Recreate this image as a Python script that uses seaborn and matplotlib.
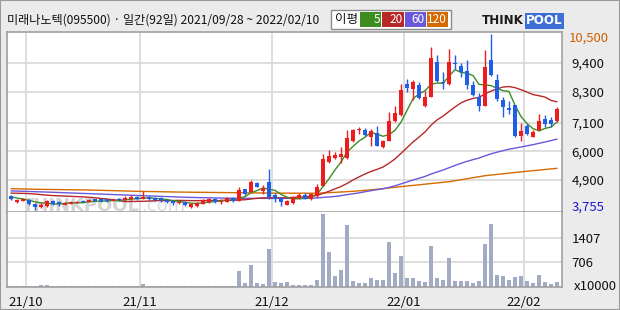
import numpy as np
import pandas as pd
import matplotlib
matplotlib.use("Agg")
import matplotlib.pyplot as plt
import seaborn as sns
from matplotlib.patches import Rectangle

# ---------------- data ----------------
title = "미래나노텍(095500) · 일간(92일) 2021/09/28 ~ 2022/02/10"
holidays = ["2021-10-04", "2021-10-11", "2021-12-31", "2022-01-31", "2022-02-01", "2022-02-02"]
dates = [d for d in pd.bdate_range("2021-09-28", "2022-02-10")
         if d.strftime("%Y-%m-%d") not in holidays]

opens = [4280, 4060, 4100, 4125, 3960, 3870, 3895, 4085, 4050, 3945,
         3970, 4010, 4085, 4060, 4150, 4165, 4150, 4100, 4165, 4140,
         4150, 4255, 4165, 4240, 4205, 4190, 4125, 4075, 3995, 4035,
         3870, 3910, 3985, 4050, 4175, 4050, 4060, 4215, 4100, 4535,
         4445, 4795, 4470, 4805, 4300, 4215, 3945, 4025, 4215, 4330,
         4155, 4295, 4680, 5590, 5745, 5795, 5745, 6410, 6820, 6820,
         6565, 6695, 6165, 6410, 7180, 7385, 8590, 8385, 8555, 7745,
         8105, 9440, 8670, 8590, 9400, 9295, 9090, 8555, 8105, 7745,
         9515, 8745, 7975, 7670, 7785, 6590, 6975, 6565, 6820, 7230,
         7205, 7180]
highs = [4330, 4150, 4190, 4150, 4000, 4000, 4125, 4125, 4085, 4035,
         4075, 4085, 4115, 4150, 4175, 4190, 4175, 4175, 4190, 4280,
         4320, 4290, 4470, 4280, 4230, 4230, 4165, 4100, 4075, 4075,
         4000, 4060, 4150, 4205, 4205, 4150, 4230, 4255, 4615, 4560,
         4895, 4830, 4705, 5330, 4390, 4255, 4125, 4280, 4385, 4385,
         4385, 4745, 5895, 6050, 5985, 6180, 6820, 6860, 6950, 6900,
         6860, 6975, 6435, 7525, 7745, 8580, 8795, 8745, 8680, 8320,
         10030, 9720, 9055, 9940, 9710, 9415, 9515, 8705, 8230, 9900,
         10500, 8965, 8105, 7925, 7785, 7105, 7040, 6820, 7435, 7400,
         7335, 7720]
lows = [4125, 4025, 4075, 3935, 3755, 3805, 3870, 3935, 3910, 3920,
        3960, 3995, 4025, 4050, 4075, 4060, 4060, 4085, 4085, 4100,
        4125, 4125, 4150, 4125, 4085, 4060, 4000, 3935, 3970, 3880,
        3830, 3870, 3960, 4025, 4000, 3960, 4035, 4060, 4075, 4330,
        4420, 4615, 4345, 4150, 4060, 3910, 3935, 3985, 4165, 4155,
        4125, 4255, 4655, 5550, 5690, 5540, 5720, 6370, 6665, 6590,
        6220, 6205, 6140, 6385, 7130, 7360, 8295, 7975, 8015, 7705,
        8080, 8655, 8410, 8555, 9155, 8875, 8410, 8130, 7565, 7730,
        8900, 7950, 7335, 7435, 6540, 6410, 6615, 6540, 6785, 6925,
        6950, 7140]
closes = [4150, 4125, 4165, 3970, 3870, 3945, 4085, 3985, 3970, 4000,
          4050, 4060, 4050, 4125, 4085, 4085, 4085, 4150, 4115, 4215,
          4230, 4165, 4255, 4165, 4125, 4115, 4050, 4025, 4050, 3920,
          3960, 4025, 4125, 4175, 4035, 4100, 4205, 4100, 4510, 4370,
          4820, 4640, 4600, 4255, 4160, 4065, 4090, 4255, 4320, 4180,
          4360, 4640, 5705, 5835, 5870, 5910, 6515, 6820, 6860, 6630,
          6785, 6220, 6400, 7170, 7475, 8360, 8450, 8680, 8065, 8105,
          9590, 8705, 8615, 9440, 9360, 9055, 8555, 8170, 7745, 9245,
          8940, 8015, 7720, 7590, 6590, 6785, 6655, 6745, 7170, 7050,
          7050, 7630]
volumes = [45, 40, 40, 45, 50, 65, 65, 40, 40, 35,
           35, 35, 35, 35, 35, 35, 35, 35, 35, 35,
           35, 35, 95, 40, 35, 35, 35, 35, 35, 35,
           35, 35, 35, 35, 35, 35, 35, 35, 470, 130,
           630, 130, 95, 1085, 160, 135, 150, 66, 66, 66,
           66, 210, 2075, 1000, 320, 490, 1765, 180, 130, 130,
           255, 210, 210, 1285, 415, 885, 265, 265, 180, 150,
           1170, 255, 210, 830, 180, 180, 190, 130, 190, 1225,
           1790, 350, 320, 210, 295, 320, 190, 130, 350, 160,
           95, 160]

ma5_head = [4250, 4200, 4160, 4110]
ma20_head = [4390, 4385, 4380, 4370, 4355, 4330, 4310, 4295, 4285, 4275,
             4265, 4255, 4245, 4230, 4210, 4185, 4160, 4130, 4100]
ma60_knot_idx = [0, 6, 13, 21, 29, 36, 44, 50, 54, 58]
ma60_knot_val = [4475, 4430, 4370, 4300, 4230, 4195, 4185, 4190, 4260, 4400]
ma120_knot_idx = [0, 5, 13, 21, 28, 36, 44, 51, 54, 57, 60, 65, 68, 73, 79, 84, 91]
ma120_knot_val = [4560, 4535, 4510, 4460, 4430, 4410, 4390, 4385, 4420, 4460,
                  4515, 4640, 4710, 4830, 5060, 5185, 5345]

price_ticks = [4900, 6000, 7100, 8300, 9400]
volume_ticks = [706, 1407]
ma_labels = ["5", "20", "60", "120"]

# ---------------- style ----------------
sns.set_theme(style="white")
FONT = ["Noto Sans CJK KR", "DejaVu Sans"]
plt.rcParams["font.family"] = FONT

RED = "#ee1c1c"
BLUE = "#1f5ee6"
C_MA5 = "#3c8c20"
C_MA20 = "#b82828"
C_MA60 = "#6a58dc"
C_MA120 = "#d46a00"
GRID = "#d8d8d8"
FRAME = "#a0a0a0"
BG = "#ebebeb"
VOLC = "#a3abc4"

W, H = 620, 310
fig = plt.figure(figsize=(W / 100, H / 100), dpi=100, facecolor=BG)
renderer = fig.canvas.get_renderer()


def rect(x0, y0, x1, y1):
    return [x0 / W, 1 - y1 / H, (x1 - x0) / W, (y1 - y0) / H]


ax = fig.add_axes(rect(7, 32, 562, 212))
axv = fig.add_axes(rect(7, 212, 562, 287.3), sharex=ax)

n = len(closes)
idx = np.arange(n)
o = np.array(opens, float)
c = np.array(closes, float)
hi = np.array(highs, float)
lo = np.array(lows, float)
up = c >= o
cols = np.where(up, RED, BLUE)

# month boundaries
month_first = [i for i in range(n) if i == 0 or dates[i].month != dates[i - 1].month][1:]
month_pos = [i - 0.5 for i in month_first]
month_text = [dates[i].strftime("%y/%m") for i in month_first]

for a in (ax, axv):
    a.set_facecolor("white")
    for p in month_pos:
        a.axvline(p, color=GRID, lw=1.2, zorder=0.5)
    for s in a.spines.values():
        s.set_color(FRAME)
        s.set_linewidth(1.2)
axv.spines["top"].set_visible(False)

for t in price_ticks:
    ax.axhline(t, color=GRID, lw=1.2, zorder=0.5)
for t in volume_ticks:
    axv.axhline(t, color=GRID, lw=1.2, zorder=0.5)

# watermark
wm = ax.text(22 / W, 1 - 211 / H, "THINKPOOL", transform=fig.transFigure,
             fontsize=13, fontweight="bold", color="#d4d4d4", va="baseline",
             family="DejaVu Sans", zorder=0.6, clip_on=True)
wm_ext = wm.get_window_extent(renderer=renderer)
ax.text((wm_ext.x1 + 1) / W, 1 - 211 / H, ".com", transform=fig.transFigure,
        fontsize=13, color="#dcdcdc", va="baseline", family="DejaVu Sans",
        zorder=0.6, clip_on=True)

# moving averages
s = pd.Series(c)
ma5 = s.rolling(5).mean()
ma20 = s.rolling(20).mean()
ma60 = s.rolling(60).mean()

ma5_x = list(range(len(ma5_head))) + list(range(len(ma5_head), n))
ma5_y = list(ma5_head) + list(ma5[len(ma5_head):])
ma20_x = list(range(len(ma20_head))) + list(range(len(ma20_head), n))
ma20_y = list(ma20_head) + list(ma20[len(ma20_head):])
ma60_x = list(ma60_knot_idx) + list(range(59, n))
ma60_y = list(ma60_knot_val) + list(ma60[59:])

for xs, ys, col in [(ma120_knot_idx, ma120_knot_val, C_MA120),
                    (ma60_x, ma60_y, C_MA60),
                    (ma20_x, ma20_y, C_MA20),
                    (ma5_x, ma5_y, C_MA5)]:
    sns.lineplot(x=xs, y=ys, ax=ax, color=col, lw=1.0, sort=False,
                 estimator=None, zorder=3)

# candles
ax.vlines(idx, lo, hi, colors=cols, lw=1.0, zorder=4)
body_lo = np.minimum(o, c)
body_h = np.maximum(np.abs(c - o), 35)
ax.bar(idx, body_h, bottom=body_lo, width=0.8, color=cols, linewidth=0, zorder=5)

# volume
axv.bar(idx, volumes, width=0.78, color=VOLC, linewidth=0, zorder=2)

# axes ranges
ax.set_xlim(-0.667, n - 0.17)
ax.set_ylim(3663, 10593)
axv.set_ylim(0, 2130)

# ticks
ax.yaxis.tick_right()
ax.set_yticks(price_ticks)
ax.set_yticklabels([f"{v:,}" for v in price_ticks])
ax.tick_params(axis="y", length=0, pad=7, labelsize=9.5, colors="#111111")
ax.tick_params(axis="x", length=0, labelbottom=False)
ax.set_ylabel("")
ax.set_xlabel("")

axv.yaxis.tick_right()
axv.set_yticks(volume_ticks)
axv.set_yticklabels([str(v) for v in volume_ticks])
axv.tick_params(axis="y", length=0, pad=7, labelsize=9.5, colors="#111111")
axv.set_xticks(month_pos)
axv.set_xticklabels(month_text)
axv.tick_params(axis="x", length=0, pad=6, labelsize=9.5, colors="#111111")
axv.set_xlabel("")
axv.set_ylabel("")

# max / min annotations
imax = int(np.argmax(hi))
imin = int(np.argmin(lo))
ax.annotate(f"{int(hi[imax]):,}", xy=(1, hi[imax]), xycoords=("axes fraction", "data"),
            xytext=(5, -3), textcoords="offset points", va="center", ha="left",
            fontsize=9.5, color="#d06000", annotation_clip=False)
ax.annotate(f"{int(lo[imin]):,}", xy=(1, lo[imin]), xycoords=("axes fraction", "data"),
            xytext=(7, 2), textcoords="offset points", va="center", ha="left",
            fontsize=9.5, color="#1a1ad0", annotation_clip=False)
fig.text(574 / W, 1 - 287 / H, "x10000", fontsize=9.5, color="#111111",
         va="center", ha="left")

# header
fig.text(7 / W, 1 - 20 / H, title, fontsize=8.7, va="center", ha="left", color="#111111")

lg_x0, lg_y0, lg_x1, lg_y1 = 331, 10, 451, 29
fig.patches.append(Rectangle((lg_x0 / W, 1 - lg_y1 / H), (lg_x1 - lg_x0) / W,
                             (lg_y1 - lg_y0) / H, transform=fig.transFigure,
                             facecolor="white", edgecolor="#8c8c8c", lw=1))
fig.text(335 / W, 1 - 19.5 / H, "이평", fontsize=9, va="center", ha="left", color="#111111")
box_edges = [360, 382, 405, 427, 449]
for k, (lab, col) in enumerate(zip(ma_labels, [C_MA5, C_MA20, C_MA60, C_MA120])):
    bx0, bx1 = box_edges[k], box_edges[k + 1] - 1
    fig.patches.append(Rectangle((bx0 / W, 1 - 27 / H), (bx1 - bx0) / W, 15 / H,
                                 transform=fig.transFigure, facecolor=col,
                                 edgecolor="none"))
    fig.text((bx1 - 1) / W, 1 - 19.5 / H, lab, fontsize=8.5, va="center",
             ha="right", color="white")

# logo
lt = fig.text(482 / W, 1 - 21 / H, "THINK", fontsize=8.6, fontweight="heavy",
              family="DejaVu Sans", va="center", ha="left", color="#1a1a1a")
lt_ext = lt.get_window_extent(renderer=renderer)
fig.text((lt_ext.x1 + 2) / W, 1 - 21 / H, "POOL", fontsize=8.6, fontweight="heavy",
         family="DejaVu Sans", va="center", ha="left", color="white",
         bbox=dict(boxstyle="square,pad=0.1", fc="#3d6fd6", ec="none"))

fig.patches.append(Rectangle((0, 0), 1, 1, transform=fig.transFigure,
                             fill=False, edgecolor="#9a9a9a", lw=1.5))

fig.savefig("out.png", dpi=100, facecolor=BG)
